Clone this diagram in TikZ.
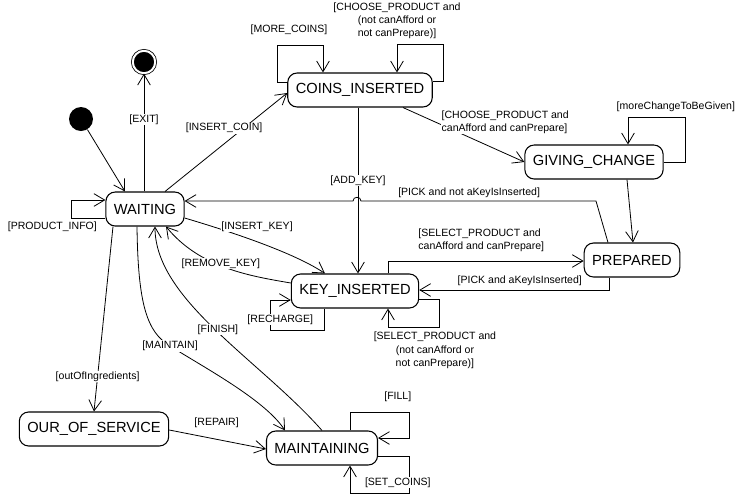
\documentclass[tikz,border=0pt]{standalone}
\usepackage{fontspec}
\setmainfont{Liberation Sans}
\usetikzlibrary{arrows.meta}
\tikzset{
  stbox/.style={draw, rounded corners=7pt, line width=0.8pt, minimum height=25.5pt, inner xsep=6pt, font=\fontsize{11}{13}\selectfont},
  lbl/.style={fill=white, inner sep=0.5pt, font=\fontsize{7.9}{9.8}\selectfont},
  initdot/.style={circle, fill=black, minimum size=18pt, inner sep=0pt},
  finaldot/.style={circle, draw, fill=black, double=white, double distance=1.5pt, minimum size=16.8pt, inner sep=0pt}
}
\begin{document}
\begin{tikzpicture}[x=0.75pt, y=-0.75pt, line width=0.6pt, >={Straight Barb[length=8pt,width=9.5pt]}]
\useasboundingbox (0,0) rectangle (740,494);
\node[initdot] (qinit) at (81,119) {};
\node[finaldot] (qexit) at (144,62) {};
\node[stbox] (qwait) at (145,209) {WAITING};
\node[stbox] (qcoins) at (360,90) {COINS\_INSERTED};
\node[stbox] (qchange) at (594,162) {GIVING\_CHANGE};
\node[stbox] (qprep) at (632,260) {PREPARED};
\node[stbox] (qkey) at (355,291) {KEY\_INSERTED};
\node[stbox] (qout) at (94,429) {OUR\_OF\_SERVICE};
\node[stbox] (qmaint) at (322,448) {MAINTAINING};

\draw[->] (qinit) -- (qwait.north -| 125,0);
\draw[->] (qwait.north -| 144,0) -- (qexit) node[lbl, pos=0.61] (tExit) {[EXIT]};
\draw[->] (qwait.north -| 165,0) -- (qcoins.west |- 0,93) node[lbl, pos=0.5, xshift=-1.5pt, yshift=10.5pt] (tInsCoin) {[INSERT\_COIN]};
\draw[->] (qcoins.west |- 0,82) -- (277,82) -- (277,45) -- (323,45) node[lbl, pos=0.26, above=7pt] (tMore) {[MORE\_COINS]} -- (qcoins.north -| 323,0);
\draw[->] (qcoins.east |- 0,81) -- (443,81) -- (443,44) -- (397,44) node[lbl, pos=1, above=3pt, align=center] (tChooseNo) {[CHOOSE\_PRODUCT and\\(not canAfford or\\not canPrepare)]} -- (qcoins.north -| 397,0);
\draw[->] (qcoins.south -| 403,0) -- (qchange.west) node[lbl, pos=0.31, anchor=west, yshift=1.8pt, align=left] (tChooseYes) {[CHOOSE\_PRODUCT and\\canAfford and canPrepare]};
\draw[->] (qchange.east) -- (685,162) -- (685,117) -- (628,117) node[lbl, pos=0.16, above=3.3pt] (tMoreChange) {[moreChangeToBeGiven]} -- (qchange.north -| 628,0);
\draw[->] (qchange.south -| 627,0) -- (qprep.north -| 633,0);
\draw[->] (qprep.north -| 608,0) -- (596,201) -- (361,201) node[lbl, pos=0.54, above=1.8pt] (tPickNo) {[PICK and not aKeyIsInserted]} .. controls (361,196) and (353,196) .. (353,201) -- (qwait.east |- 0,201);
\draw[->] (qcoins.south -| 358,0) -- (qkey.north -| 358,0) node[lbl, pos=0.44] (tAddKey) {[ADD\_KEY]};
\draw[->] (qwait.east |- 0,218) .. controls (215,227) and (290,250) .. (qkey.north -| 325,0) node[lbl, pos=0.5, xshift=3pt, yshift=10.5pt] (tInsKey) {[INSERT\_KEY]};
\draw[->] (qkey.west |- 0,283) .. controls (250,276) and (200,268) .. (qwait.south -| 166,0) node[lbl, pos=0.5, xshift=-3.75pt, yshift=3pt] (tRemKey) {[REMOVE\_KEY]};
\draw[->] (qwait.west |- 0,218) -- (71,218) node[lbl, pos=1, below=2pt, xshift=-14pt] (tInfo) {[PRODUCT\_INFO]} -- (71,200) -- (qwait.west |- 0,200);
\draw[->] (qwait.south -| 113,0) -- (qout.north -| 94,0) node[lbl, pos=0.81] (tOut) {[outOfIngredients]};
\draw[->] (qwait.south -| 137,0) .. controls (138,305) and (147,332) .. (170,346) node[lbl] (tMaint) {[MAINTAIN]} .. controls (205,368) and (265,400) .. (qmaint.north -| 285,0);
\draw[->] (qmaint.north -| 322,0) .. controls (260,360) and (155,300) .. (qwait.south -| 155,0) node[lbl, pos=0.5, xshift=2pt] (tFinish) {[FINISH]};
\draw[->] (qout.east |- 0,430) -- (qmaint.west |- 0,449) node[lbl, pos=0.49, above=7.8pt] (tRepair) {[REPAIR]};
\draw[->] (qmaint.north -| 350,0) -- (350,412) -- (409,412) node[lbl, pos=0.81, above=7pt] (tFill) {[FILL]} -- (409,438) -- (qmaint.east |- 0,438);
\draw[->] (qmaint.east |- 0,456) -- (409,456) -- (409,493) -- (350,493) node[lbl, pos=0.19, above=3.3pt] (tSetCoins) {[SET\_COINS]} -- (qmaint.south -| 350,0);
\draw[->] (qkey.north -| 388,0) -- (388,261) -- (qprep.west |- 0,261) node[lbl, pos=0.15, anchor=south west, yshift=6.2pt, align=left] (tSelYes) {[SELECT\_PRODUCT and\\canAfford and canPrepare]};
\draw[->] (qprep.south -| 609,0) -- (609,290) -- (qkey.east |- 0,290) node[lbl, pos=0.47, above=2.5pt] (tPickYes) {[PICK and aKeyIsInserted]};
\draw[->] (qkey.east |- 0,299) -- (439,299) -- (439,327) -- (388,327) node[lbl, pos=0.08, below=3.2pt, align=center] (tSelNo) {[SELECT\_PRODUCT and\\(not canAfford or\\not canPrepare)]} -- (qkey.south -| 388,0);
\draw[->] (qkey.south -| 324,0) -- (324,330) -- (270,330) node[lbl, pos=0.81, above=3.3pt] (tRecharge) {[RECHARGE]} -- (270,300) -- (qkey.west |- 0,300);
\end{tikzpicture}
\end{document}
